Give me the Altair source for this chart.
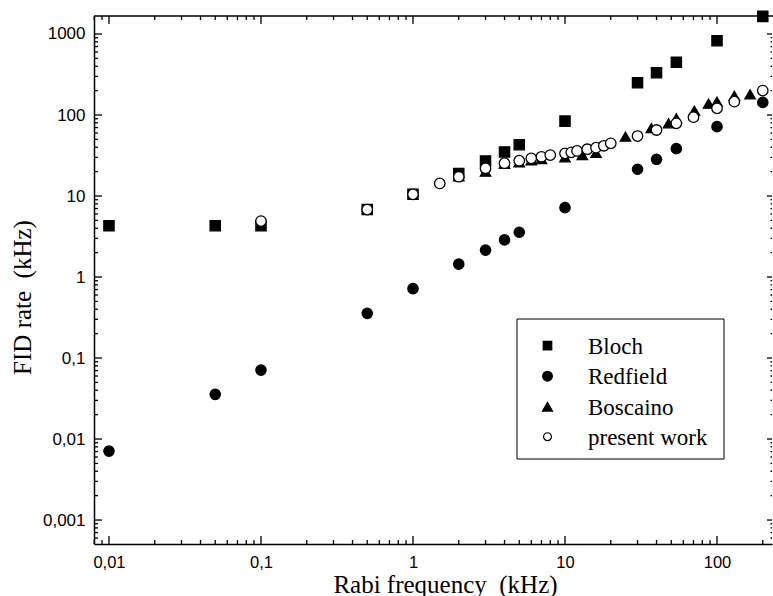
import altair as alt
import pandas as pd

# ---------------- data ----------------
bloch_x = [0.01, 0.05, 0.1, 0.5, 1, 2, 3, 4, 5, 10, 30, 40, 54, 100, 200]
bloch_y = [4.3, 4.3, 4.3, 6.8, 10.5, 19, 27, 35, 43, 84, 250, 333, 448, 826, 1650]

redfield_x = [0.01, 0.05, 0.1, 0.5, 1, 2, 3, 4, 5, 10, 30, 40, 54, 100, 200]
redfield_y = [0.0071, 0.0356, 0.071, 0.356, 0.72, 1.44, 2.15, 2.87, 3.57, 7.18,
              21.4, 28.4, 38.4, 71.8, 143]

boscaino_x = [2, 3, 4, 5, 6, 7, 10, 13, 16, 25, 37, 48, 54, 71, 88, 100, 130, 165]
boscaino_y = [17.5, 20, 25, 26, 27.5, 28.5, 30, 32, 34, 54, 69, 79, 91, 113, 138,
              146, 172, 180]

present_x = [0.1, 0.5, 1, 1.5, 2, 3, 4, 5, 6, 7, 8, 10, 11, 12, 14, 16, 18, 20,
             30, 40, 54, 70, 100, 130, 200]
present_y = [4.9, 6.8, 10.5, 14.3, 17.3, 22, 25.4, 27.3, 29.2, 30.5, 32, 33.6, 34.6,
             36, 37.8, 39.5, 41.7, 44.7, 55, 65.3, 79, 94, 121, 146, 200]

series_names = ["Bloch", "Redfield", "Boscaino", "present work"]
x_ticks = [0.01, 0.1, 1, 10, 100]
y_ticks = [0.001, 0.01, 0.1, 1, 10, 100, 1000]

x_domain = [0.00797, 230]
y_domain = [0.000506, 1668]

# ---------------- styling / layout ----------------
W, H = 678, 528
X_TITLE = "Rabi frequency\u00a0\u00a0(kHz)"
Y_TITLE = "FID rate\u00a0\u00a0(kHz)"
shapes = ["square", "circle", "triangle-up", "circle"]
fills = ["black", "black", "black", "white"]
sizes = [105, 110, 130, 90]
leg_sizes = [72, 95, 100, 62]
LEG_BOX = (423, 630, 303, 443)
LEG_SYM_X, LEG_TXT_X = 453.5, 494
LEG_ROW_Y = [329.7, 360.2, 390.7, 420.7]

rows = []
for name, xs, ys in zip(series_names,
                        [bloch_x, redfield_x, boscaino_x, present_x],
                        [bloch_y, redfield_y, boscaino_y, present_y]):
    for a, b in zip(xs, ys):
        rows.append({"series": name, "kind": name, "x": a, "y": b})
df = pd.DataFrame(rows)

def minor(lo, hi):
    out = []
    e = -5
    while 10 ** e <= hi:
        for m in range(2, 10):
            v = m * 10 ** e
            if lo <= v <= hi:
                out.append(v)
        e += 1
    return out

x_minor = minor(*x_domain)
y_minor = minor(*y_domain)

xscale = alt.Scale(type="log", domain=x_domain, nice=False)
yscale = alt.Scale(type="log", domain=y_domain, nice=False)

points = alt.Chart(df).mark_point(
    filled=True, stroke="black", strokeWidth=1.3, opacity=1
).encode(
    x=alt.X("x:Q", scale=xscale, title=X_TITLE,
            axis=alt.Axis(values=x_ticks, ticks=False, grid=False,
                          labelExpr="replace(toString(datum.value), '.', ',')",
                          labelFont="Liberation Sans", labelFontSize=16.5,
                          labelColor="black", labelPadding=10,
                          domainColor="black", domainWidth=1.5,
                          titleFont="Liberation Serif", titleFontSize=25,
                          titleFontWeight="normal", titleColor="black",
                          titleX=351, titleY=48, titleBaseline="alphabetic")),
    y=alt.Y("y:Q", scale=yscale, title=Y_TITLE,
            axis=alt.Axis(values=y_ticks, ticks=False, grid=False,
                          labelExpr="replace(toString(datum.value), '.', ',')",
                          labelFont="Liberation Sans", labelFontSize=17,
                          labelColor="black", labelPadding=9,
                          domainColor="black", domainWidth=1.5,
                          titleFont="Liberation Serif", titleFontSize=25,
                          titleFontWeight="normal", titleColor="black",
                          titleX=-64, titleY=281, titleBaseline="alphabetic",
                          titleAngle=270)),
    shape=alt.Shape("series:N", scale=alt.Scale(domain=series_names, range=shapes),
                    legend=None),
    fill=alt.Fill("series:N", scale=alt.Scale(domain=series_names, range=fills),
                  legend=None),
    size=alt.Size("kind:N", scale=alt.Scale(domain=series_names, range=sizes),
                  legend=None),
)

def yrules(vals, x1, x2):
    return alt.Chart(pd.DataFrame({"v": vals})).mark_rule(
        color="black", strokeWidth=1.3
    ).encode(y=alt.Y("v:Q", scale=yscale, title=Y_TITLE),
             x=alt.value(x1), x2=alt.value(x2))

def xrules(vals, y1, y2):
    return alt.Chart(pd.DataFrame({"v": vals})).mark_rule(
        color="black", strokeWidth=1.3
    ).encode(x=alt.X("v:Q", scale=xscale, title=X_TITLE),
             y=alt.value(y1), y2=alt.value(y2))

top_spine = alt.Chart(pd.DataFrame({"v": [1]})).mark_rule(
    color="black", strokeWidth=1.5
).encode(x=alt.value(0), x2=alt.value(W + 1), y=alt.value(0))

# ---------------- legend (drawn by hand) ----------------
one = pd.DataFrame({"v": [1]})
legend_box = alt.Chart(one).mark_rect(
    fill="white", stroke="black", strokeWidth=1
).encode(x=alt.value(LEG_BOX[0]), x2=alt.value(LEG_BOX[1]),
         y=alt.value(LEG_BOX[2]), y2=alt.value(LEG_BOX[3]))

legend_layers = [legend_box]
for i, name in enumerate(series_names):
    d = pd.DataFrame({"series": [name]})
    legend_layers.append(
        alt.Chart(d).mark_point(shape=shapes[i], filled=True, fill=fills[i],
                                stroke="black", strokeWidth=1.2, opacity=1,
                                size=leg_sizes[i])
        .encode(x=alt.value(LEG_SYM_X), y=alt.value(LEG_ROW_Y[i]))
    )
    legend_layers.append(
        alt.Chart(d).mark_text(align="left", baseline="middle",
                               font="Liberation Serif", fontSize=23, color="black")
        .encode(x=alt.value(LEG_TXT_X), y=alt.value(LEG_ROW_Y[i] + 1),
                text="series:N")
    )

layers = [
    points,
    yrules(y_ticks, 0, 8), yrules(y_minor, 0, 4),
    xrules(x_ticks, H, H - 8), xrules(x_minor, H, H - 4),
    xrules(x_ticks, 0, 8), xrules(x_minor, 0, 4),
    yrules(y_ticks, W, W - 5), yrules(y_minor, W, W - 1.5),
    top_spine,
] + legend_layers

chart = alt.layer(*layers).properties(
    width=W, height=H,
    autosize=alt.AutoSizeParams(type="none"),
    padding={"left": 94, "top": 16, "right": 1, "bottom": 52},
    background="white",
).configure_view(stroke=None)

chart.save("out.html", embed_options={"renderer": "svg", "actions": False})
